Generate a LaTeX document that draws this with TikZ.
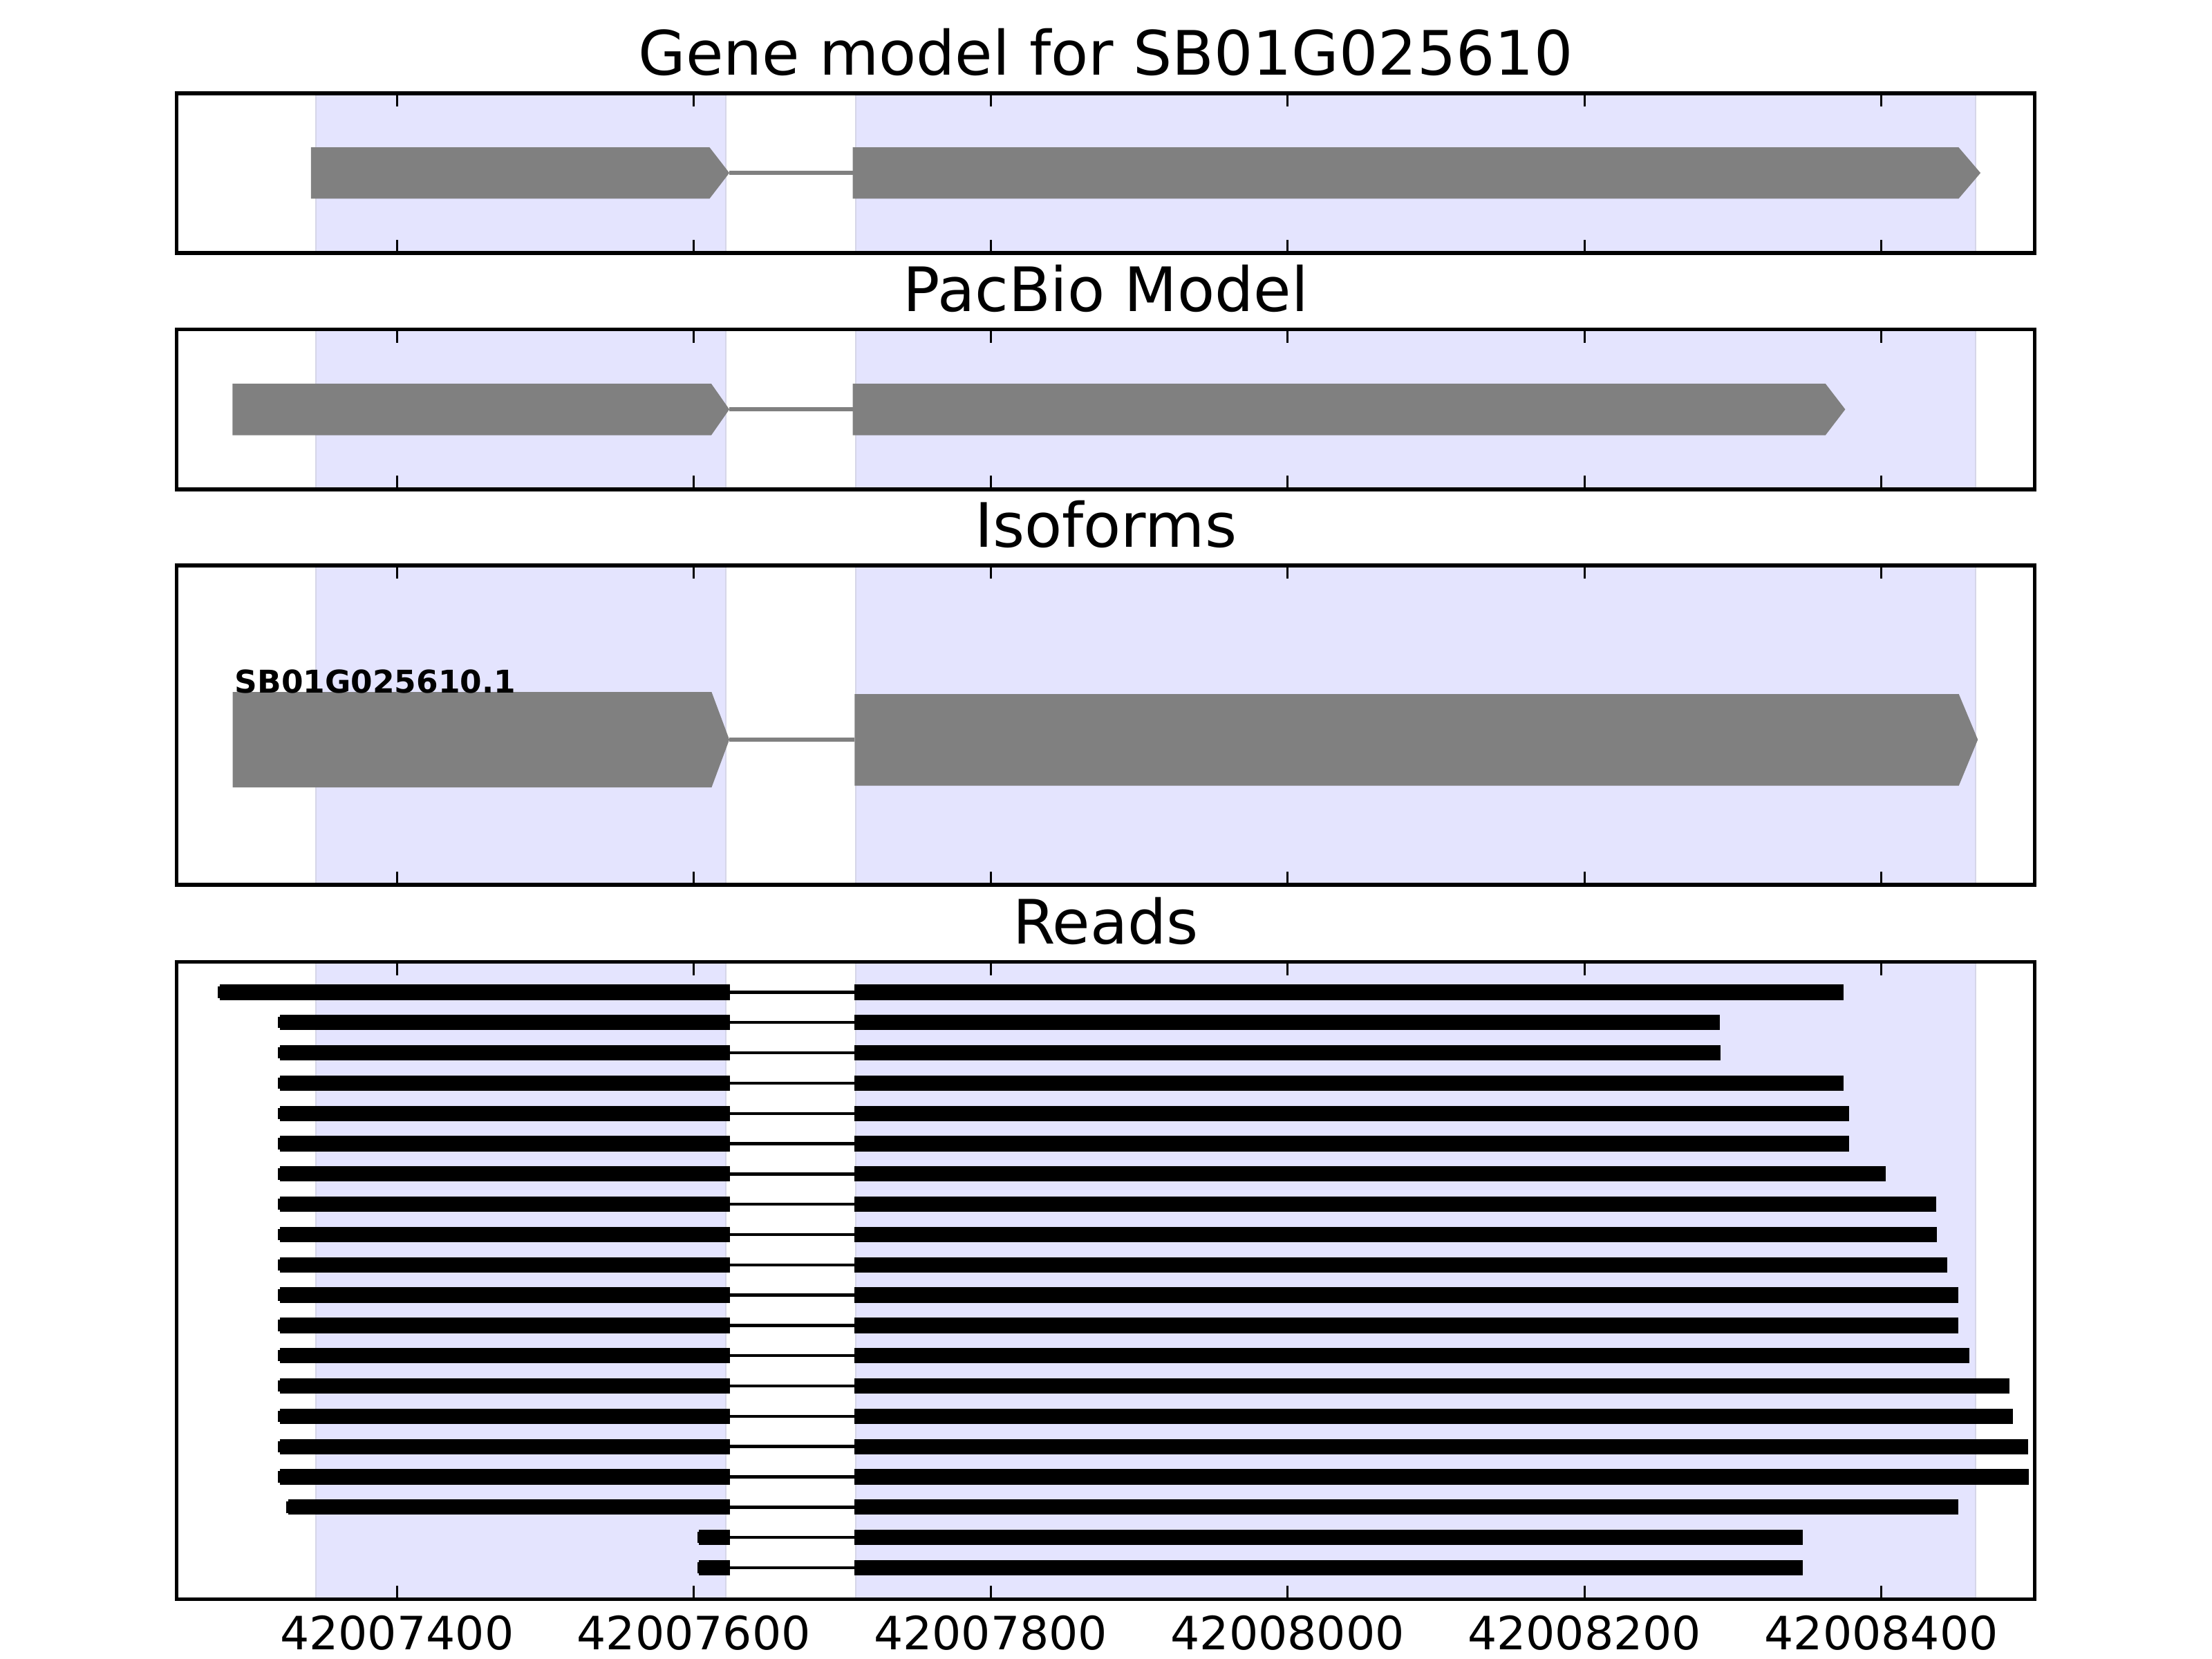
\documentclass[tikz,border=0pt]{standalone}
\usepackage{fontspec}
\setmainfont{DejaVu Sans}
\definecolor{shadeblue}{RGB}{228,228,254}
\definecolor{shadeedge}{RGB}{214,214,232}
\definecolor{exongray}{RGB}{128,128,128}
\begin{document}
\begin{tikzpicture}[x=0.0129592cm, y=-0.0129592cm]
\tikzset{
  panelbox/.style={draw=black, line width=1pt},
  shadebox/.style={fill=shadeblue, draw=shadeedge, line width=0.35pt},
  exonshape/.style={fill=exongray},
  intronln/.style={draw=exongray, line width=1pt},
  readblk/.style={fill=black},
  readln/.style={draw=black, line width=0.8pt},
  tickmk/.style={draw=black, line width=0.5pt},
  titletext/.style={font=\fontsize{16}{19}\selectfont, anchor=base, inner sep=0pt},
  ticklab/.style={font=\fontsize{12}{14}\selectfont, anchor=base, inner sep=0pt},
  isolab/.style={font=\bfseries\fontsize{8.2}{10}\selectfont, anchor=base west, inner sep=0pt},
}
\useasboundingbox (0,0) rectangle (1568,1176);

% ---------- shading in every panel ----------
\foreach \tp/\bt in {66.1/179.3, 233.6/346.8, 400.8/627.2, 681.9/1133.5}{
  \filldraw[shadebox] (223.8,\tp) rectangle (514.3,\bt);
  \filldraw[shadebox] (606.5,\tp) rectangle (1400.6,\bt);
}

% ---------- panel 1 : gene model ----------
\draw[intronln] (517,122.6) -- (604.5,122.6);
\fill[exonshape] (220.4,104.5) -- (503,104.5) -- (517,122.6) -- (503,140.8) -- (220.4,140.8) -- cycle;
\fill[exonshape] (604.5,104.5) -- (1388.4,104.5) -- (1403.9,122.6) -- (1388.4,140.8) -- (604.5,140.8) -- cycle;

% ---------- panel 2 : PacBio model ----------
\draw[intronln] (517,290.2) -- (604.5,290.2);
\fill[exonshape] (164.8,272) -- (504.2,272) -- (517,290.2) -- (504.2,308.5) -- (164.8,308.5) -- cycle;
\fill[exonshape] (604.5,272) -- (1294,272) -- (1308,290.2) -- (1294,308.5) -- (604.5,308.5) -- cycle;

% ---------- panel 3 : isoforms ----------
\draw[intronln] (517,524.3) -- (605.8,524.3);
\fill[exonshape] (164.9,490.5) -- (504.4,490.5) -- (517,524.3) -- (504.4,558.2) -- (164.9,558.2) -- cycle;
\fill[exonshape] (605.8,492) -- (1388.5,492) -- (1402,524.3) -- (1388.5,557) -- (605.8,557) -- cycle;
\node[isolab] (isoname) at (166,491.3) {SB01G025610.1};

% ---------- panel 4 : reads ----------
\foreach \k/\L/\R in {1/155.6/1307.0, 2/198.6/1218.9, 3/198.6/1219.8, 4/198.6/1307.0,
  5/198.6/1310.9, 6/198.6/1310.9, 7/198.6/1336.5, 8/198.6/1372.3, 9/198.6/1373.1,
  10/198.6/1380.4, 11/198.6/1388.0, 12/198.6/1388.0, 13/198.6/1396.2, 14/198.6/1424.6,
  15/198.6/1427.1, 16/198.6/1437.5, 17/198.6/1438.3, 18/204.3/1388.0, 19/495.6/1277.8,
  20/495.6/1277.8}{
  \pgfmathsetmacro\yy{681.9+21.47*\k}
  \draw[readln] (517.3,\yy) -- (605.8,\yy);
  \fill[readblk] (\L,\yy-5.45) rectangle (517.3,\yy+5.45);
  \fill[readblk] (605.8,\yy-5.45) rectangle (\R,\yy+5.45);
  \fill[readblk] (\L-1.4,\yy-4) rectangle (\L,\yy+4);
}

% ---------- ticks and borders ----------
\foreach \tp/\bt in {66.1/179.3, 233.6/346.8, 400.8/627.2, 681.9/1133.5}{
  \foreach \tx in {281.4, 491.85, 702.3, 912.75, 1123.2, 1333.65}{
    \draw[tickmk] (\tx,\tp) -- (\tx,\tp+9.5);
    \draw[tickmk] (\tx,\bt) -- (\tx,\bt-9.5);
  }
  \draw[panelbox] (125.2,\tp) rectangle (1442.4,\bt);
}

% ---------- titles ----------
\node[titletext] (t1) at (783.8,53.1) {Gene model for SB01G025610};
\node[titletext] (t2) at (783.8,220.6) {PacBio Model};
\node[titletext] (t3) at (783.8,387.8) {Isoforms};
\node[titletext] (t4) at (783.8,668.9) {Reads};

% ---------- tick labels ----------
\node[ticklab] (l1) at (281.4,1169.4) {42007400};
\node[ticklab] (l2) at (491.85,1169.4) {42007600};
\node[ticklab] (l3) at (702.3,1169.4) {42007800};
\node[ticklab] (l4) at (912.75,1169.4) {42008000};
\node[ticklab] (l5) at (1123.2,1169.4) {42008200};
\node[ticklab] (l6) at (1333.65,1169.4) {42008400};
\end{tikzpicture}
\end{document}
